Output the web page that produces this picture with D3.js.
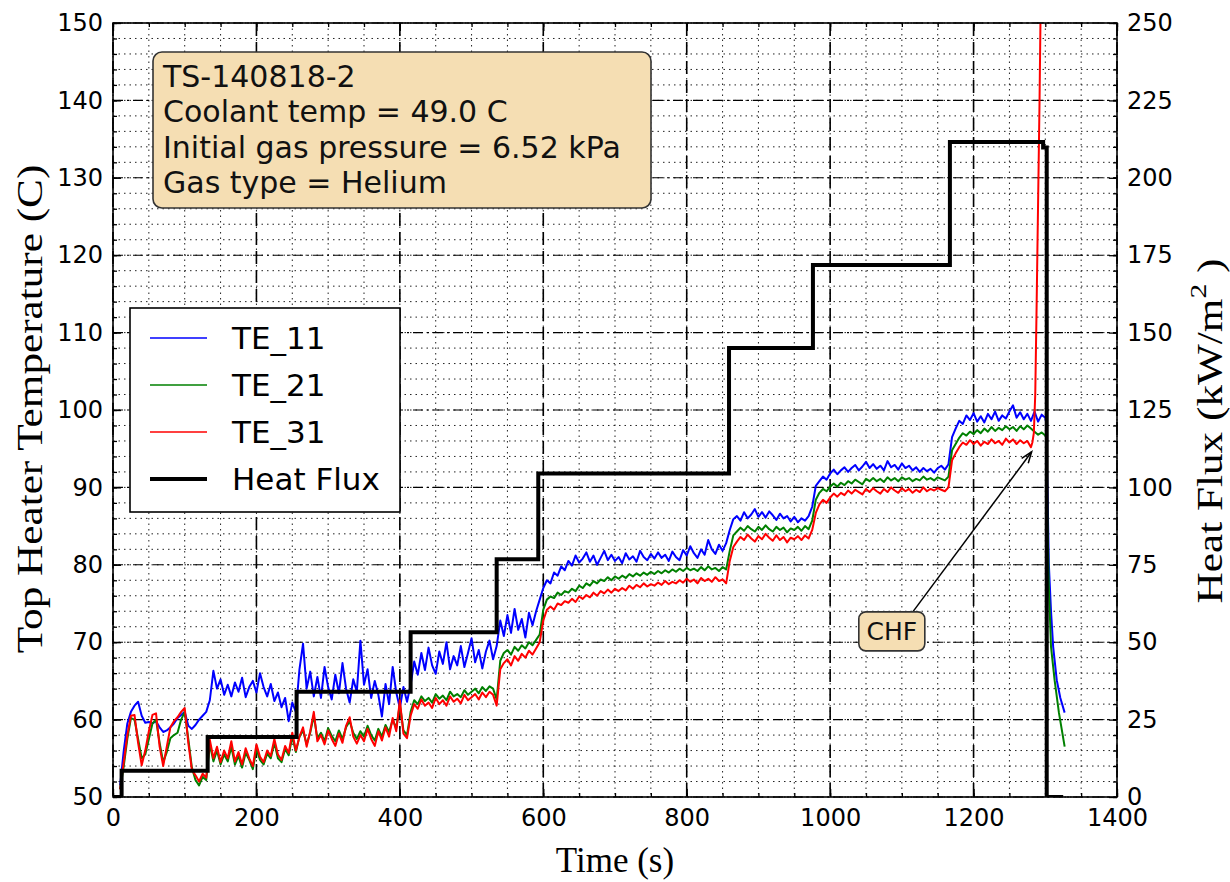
<!DOCTYPE html>
<html><head><meta charset="utf-8">
<script src="https://cdn.jsdelivr.net/npm/d3@7"></script>
<style>body{margin:0;background:#fff}</style>
</head><body>
<svg id="chart" width="1230" height="882"></svg>
<script>
// ---------- DATA ----------
const sampleStart = 10, sampleStep = 5;   // seconds
// TE_11 (blue), samples every 5 s from t=10 to t=1300
const te11 = [
 51.5,56.0,59.5,61.0,61.8,62.3,60.5,59.6,59.7,59.5,   // 10
 59.8,59.0,58.4,58.6,59.0,59.5,60.2,60.6,61.0,59.2,   // 60
 58.8,59.3,60.0,60.5,61.0,62.5,66.3,64.0,65.2,63.2,   // 110
 64.5,63.0,64.8,63.6,65.4,62.9,64.2,65.0,63.5,66.0,   // 160
 64.2,63.0,64.6,62.4,63.5,61.6,62.8,59.8,62.2,61.0,   // 210
 66.5,69.8,64.0,66.2,63.0,65.5,62.8,66.8,64.2,62.6,   // 260
 65.8,63.4,67.3,64.0,62.2,65.2,63.6,70.2,64.5,66.5,   // 310
 62.8,65.0,63.2,60.4,64.6,62.0,66.8,63.5,61.5,64.2,   // 360
 62.3,64.5,67.5,65.8,68.6,66.4,69.3,67.0,65.9,68.8,   // 410
 67.2,70.0,66.5,68.2,67.0,69.5,66.8,68.6,70.5,67.4,   // 460
 69.0,66.6,68.8,70.2,67.8,69.5,72.8,70.8,73.5,71.2,   // 510
 74.3,71.6,73.0,70.6,73.8,72.2,74.0,75.5,77.0,78.0,   // 560
 77.6,79.0,78.6,79.8,79.3,80.5,79.9,81.2,80.3,80.8,   // 610
 81.6,80.4,81.2,80.0,80.9,81.8,80.6,81.3,80.5,81.0,   // 660
 80.2,81.5,80.7,81.1,80.4,81.8,81.0,80.6,81.4,80.8,   // 710
 81.6,80.9,81.3,80.5,81.7,81.0,80.6,81.9,81.2,82.4,   // 760
 81.5,80.9,82.0,81.3,83.2,82.0,81.4,82.6,81.8,82.8,   // 810
 84.5,85.9,86.3,85.7,86.8,86.0,86.5,87.2,86.2,86.8,   // 860
 86.1,86.9,86.4,85.8,86.6,86.0,86.3,85.6,86.2,85.5,   // 910
 86.0,85.7,86.3,87.5,90.2,90.8,91.4,91.0,91.8,92.3,   // 960
 91.7,92.2,92.6,92.0,92.5,92.9,92.2,92.7,93.3,92.5,   // 1010
 93.0,92.4,92.8,92.2,93.4,92.6,92.9,92.3,93.1,92.5,   // 1060
 92.8,92.2,92.6,92.0,92.5,92.1,92.4,91.9,92.5,92.8,   // 1110
 92.3,93.0,96.5,97.6,98.6,98.2,99.3,98.7,99.6,98.5,   // 1160
 99.2,98.4,99.5,98.8,99.8,98.6,99.3,98.9,99.8,100.6,  // 1210
 99.0,99.7,98.8,99.5,98.6,99.8,98.5,99.4,99.0         // 1260
];
const te11TailTime = [1301,1303,1305,1308,1311,1316,1321,1327];
const te11Tail     = [98.5,90.0,80.0,74.0,69.4,65.1,62.8,60.9];

// TE_21 (green), samples every 5 s from t=10 to t=1300
const te21 = [
 51.0,54.0,57.5,60.2,60.0,57.5,55.0,55.5,57.5,59.5,   // 10
 60.0,57.0,54.5,55.8,57.6,58.0,58.3,60.0,61.0,57.5,   // 60
 53.8,52.2,51.5,52.6,52.2,56.8,54.6,56.0,54.2,55.5,   // 110
 54.6,56.5,54.2,55.3,53.8,55.7,54.8,53.6,56.2,54.8,   // 160
 54.2,55.6,55.0,57.0,55.0,54.5,56.2,55.4,57.8,55.8,   // 210
 57.8,58.6,56.8,58.3,60.5,57.6,58.3,57.2,58.9,57.9,   // 260
 57.2,58.6,57.5,59.0,59.8,58.3,57.5,58.5,57.8,59.2,   // 310
 58.0,57.3,58.8,57.8,59.3,58.4,60.0,58.9,62.0,58.6,   // 360
 58.0,61.0,62.5,62.0,63.0,62.4,62.8,62.2,63.3,62.7,   // 410
 63.1,62.5,63.6,63.0,63.3,62.9,63.8,63.2,63.6,64.0,   // 460
 63.4,64.2,63.7,64.3,64.0,62.6,67.6,68.6,69.0,68.4,   // 510
 69.4,68.9,69.6,69.2,70.0,69.6,70.3,71.0,74.2,75.5,   // 560
 75.9,75.7,76.4,76.1,76.6,76.4,76.9,76.6,77.3,77.0,   // 610
 77.6,77.3,77.9,77.6,78.1,77.9,78.4,78.0,78.5,78.2,   // 660
 78.6,78.3,78.8,78.5,78.9,78.6,79.0,78.7,79.1,78.8,   // 710
 79.2,78.9,79.3,79.0,79.4,79.1,79.5,79.2,79.6,79.3,   // 760
 79.5,79.2,79.7,79.3,79.8,79.4,79.6,79.2,79.7,79.4,   // 810
 81.8,83.8,84.3,84.8,84.4,85.0,84.6,84.3,84.9,84.5,   // 860
 85.1,84.6,84.3,84.9,84.5,84.8,84.2,84.7,84.5,84.9,   // 910
 84.4,85.0,84.6,85.7,88.4,89.3,89.8,89.5,90.1,90.5,   // 960
 90.1,90.6,90.3,90.8,90.5,91.0,90.7,90.4,91.1,90.8,   // 1010
 91.2,90.8,91.1,90.7,91.3,90.9,91.2,90.8,91.3,91.0,   // 1060
 91.2,90.8,91.1,90.9,91.4,91.0,91.2,90.9,91.3,91.1,   // 1110
 90.9,91.4,94.8,95.6,96.4,97.0,96.7,97.2,96.9,97.4,   // 1160
 97.0,97.6,97.2,97.8,97.3,97.7,97.4,97.9,97.5,97.8,   // 1210
 97.3,97.9,97.5,98.0,97.6,97.2,96.8,97.1,96.7         // 1260
];
const te21TailTime = [1301,1303,1305,1308,1313,1319,1327];
const te21Tail     = [96.5,86.0,77.0,69.4,65.1,60.9,56.5];

// TE_31 (red), samples every 5 s from t=10 to t=1280, then the CHF excursion
const te31 = [
 51.0,54.5,58.0,60.5,60.6,57.0,54.1,56.0,58.5,60.6,   // 10
 60.8,56.5,54.0,56.5,59.0,59.8,60.3,61.0,61.5,57.0,   // 60
 53.5,52.8,52.0,53.0,52.5,57.4,55.0,56.5,54.5,56.0,   // 110
 55.0,57.2,54.6,55.8,54.2,56.3,55.0,54.0,56.8,55.2,   // 160
 54.5,56.0,55.3,57.5,55.5,54.8,56.6,55.7,58.3,56.0,   // 210
 57.8,59.0,56.5,58.5,61.0,57.2,58.0,56.8,58.6,57.5,   // 260
 56.6,58.2,57.0,59.2,60.3,57.8,56.9,58.0,57.2,58.8,   // 310
 57.5,56.6,58.5,57.3,59.0,57.8,60.2,58.5,62.5,58.2,   // 360
 57.6,60.5,62.0,61.4,62.6,61.8,62.2,61.5,62.8,62.0,   // 410
 62.5,61.8,63.0,62.3,62.7,62.1,63.2,62.5,62.9,63.3,   // 460
 62.6,63.5,62.9,63.6,63.2,61.8,66.5,67.3,67.8,67.0,   // 510
 68.2,67.6,68.5,68.0,68.9,68.4,69.2,70.0,72.8,74.2,   // 560
 74.6,74.2,75.0,74.8,75.3,75.1,75.6,75.2,75.9,75.6,   // 610
 76.1,75.8,76.4,76.0,76.6,76.3,76.8,76.4,76.9,76.6,   // 660
 77.0,76.7,77.3,76.9,77.4,77.1,77.6,77.2,77.5,77.3,   // 710
 77.7,77.4,77.9,77.5,77.8,77.6,78.0,77.7,78.2,77.8,   // 760
 78.1,77.6,78.3,77.9,78.2,77.8,78.4,77.9,78.1,77.6,   // 810
 80.5,82.3,83.0,83.6,83.2,83.9,83.4,83.0,83.7,83.3,   // 860
 84.0,83.5,83.1,83.8,83.2,83.6,82.9,83.5,83.3,83.7,   // 910
 83.2,83.8,83.4,84.5,86.7,87.8,88.4,88.0,88.7,89.2,   // 960
 88.8,89.3,89.0,89.6,89.2,89.7,89.4,89.1,89.8,89.4,   // 1010
 89.9,89.5,89.2,89.8,89.4,90.0,89.6,89.3,89.9,89.5,   // 1060
 89.8,89.3,89.7,89.4,90.0,89.5,89.8,89.6,89.9,89.7,   // 1110
 89.5,90.0,93.5,94.4,95.2,95.8,95.5,96.1,95.6,96.0,   // 1160
 95.4,95.9,95.6,96.2,95.7,96.0,95.5,96.3,95.8,96.2,   // 1210
 95.6,96.1,95.7,96.0,95.2                             // 1260
];
const te31SpikeTime = [1282,1284,1286,1288,1290,1292,1294];
const te31Spike     = [95.8,97.0,102.0,114.0,127.0,140.0,156.0];

// Heat flux (kW/m^2), step changes
const fluxTime  = [0,  12,  132,  256,  415,  535,  593,   859,   976,   1167,  1297,  1302, 1325];
const fluxValue = [0,  8.5, 19.4, 34.0, 53.2, 76.8, 104.5, 145.0, 171.8, 211.6, 209.8, 0,    0];

const xTicks  = [0,200,400,600,800,1000,1200,1400];
const yTicks  = [50,60,70,80,90,100,110,120,130,140,150];
const y2Ticks = [0,25,50,75,100,125,150,175,200,225,250];

const infoLines = ["TS-140818-2","Coolant temp = 49.0 C","Initial gas pressure = 6.52 kPa","Gas type = Helium"];
const seriesNames  = ["TE_11","TE_21","TE_31","Heat Flux"];
const seriesColors = ["#0000ff","#008000","#ff0000","#000000"];
const chfLabel = "CHF";
const chfTip = [1281, 94.6];      // time, temperature
const chfText = [1086, 71.4];     // time, temperature

// ---------- CHART ----------
const W = 1230, H = 882;
const L = 113, R = 1117, T = 23, B = 797;
const svg = d3.select("#chart");
const x  = d3.scaleLinear([0,1400],[L,R]);
const y  = d3.scaleLinear([50,150],[B,T]);
const y2 = d3.scaleLinear([0,250],[B,T]);
const tickFont = "DejaVu Sans, sans-serif";
const serif = "Liberation Serif, Times New Roman, serif";

svg.append("rect").attr("width",W).attr("height",H).attr("fill","#fff");

// grid
const grid = svg.append("g");
const minorX = d3.range(0,1401,50), minorY = d3.range(50,150.01,2);
grid.selectAll(".mx").data(minorX).join("line")
  .attr("x1",d=>x(d)).attr("x2",d=>x(d)).attr("y1",T).attr("y2",B)
  .attr("stroke","#222").attr("stroke-width",1).attr("stroke-dasharray","1.5,4");
grid.selectAll(".my").data(minorY).join("line")
  .attr("y1",d=>y(d)).attr("y2",d=>y(d)).attr("x1",L).attr("x2",R)
  .attr("stroke","#222").attr("stroke-width",1).attr("stroke-dasharray","1.5,4");
grid.selectAll(".Mx").data(xTicks).join("line")
  .attr("x1",d=>x(d)).attr("x2",d=>x(d)).attr("y1",T).attr("y2",B)
  .attr("stroke","#000").attr("stroke-width",1.6).attr("stroke-dasharray","13,6");
grid.selectAll(".My").data(yTicks).join("line")
  .attr("y1",d=>y(d)).attr("y2",d=>y(d)).attr("x1",L).attr("x2",R)
  .attr("stroke","#000").attr("stroke-width",1.1).attr("stroke-dasharray","10,4,2,4");

// clip
svg.append("clipPath").attr("id","plotclip").append("rect")
  .attr("x",L).attr("y",T).attr("width",R-L).attr("height",B-T);
const plot = svg.append("g").attr("clip-path","url(#plotclip)");

function sampled(vals){ return vals.map((v,i)=>[sampleStart+i*sampleStep, v]); }
function zipT(ts,vs){ return ts.map((t,i)=>[t,vs[i]]); }
const s11 = sampled(te11).concat(zipT(te11TailTime,te11Tail));
const s21 = sampled(te21).concat(zipT(te21TailTime,te21Tail));
const s31 = sampled(te31).concat(zipT(te31SpikeTime,te31Spike));

const line = d3.line().x(d=>x(d[0])).y(d=>y(d[1]));
[[s11,0],[s21,1],[s31,2]].forEach(([s,i])=>{
  plot.append("path").datum(s).attr("d",line).attr("fill","none")
    .attr("stroke",seriesColors[i]).attr("stroke-width",2).attr("stroke-linejoin","round");
});
// heat flux on right axis
const fluxLine = d3.line().x(d=>x(d[0])).y(d=>y2(d[1])).curve(d3.curveStepAfter);
plot.append("path").datum(zipT(fluxTime,fluxValue)).attr("d",fluxLine).attr("fill","none")
  .attr("stroke","#000").attr("stroke-width",4).attr("stroke-linejoin","miter");

// axes
function styleAxis(g){
  g.select(".domain").remove();
  g.selectAll("text").attr("font-family",tickFont).attr("font-size",24).attr("fill","#000");
  g.selectAll("line").attr("stroke","#000").attr("stroke-width",1.3);
}
svg.append("g").attr("transform",`translate(0,${B})`)
  .call(d3.axisBottom(x).tickValues(xTicks).tickSize(-8).tickPadding(12).tickFormat(d3.format("d"))).call(styleAxis);
svg.append("g").attr("transform",`translate(0,${B})`)
  .call(d3.axisBottom(x).tickValues(minorX).tickSize(-4).tickFormat("")).call(styleAxis);
svg.append("g").attr("transform",`translate(0,${T})`)
  .call(d3.axisTop(x).tickValues(xTicks).tickSize(-8).tickFormat("")).call(styleAxis);
svg.append("g").attr("transform",`translate(0,${T})`)
  .call(d3.axisTop(x).tickValues(minorX).tickSize(-4).tickFormat("")).call(styleAxis);
svg.append("g").attr("transform",`translate(${L},0)`)
  .call(d3.axisLeft(y).tickValues(yTicks).tickSize(-8).tickPadding(10).tickFormat(d3.format("d"))).call(styleAxis);
svg.append("g").attr("transform",`translate(${L},0)`)
  .call(d3.axisLeft(y).tickValues(minorY).tickSize(-4).tickFormat("")).call(styleAxis);
svg.append("g").attr("transform",`translate(${R},0)`)
  .call(d3.axisRight(y2).tickValues(y2Ticks).tickSize(-8).tickPadding(10).tickFormat(d3.format("d"))).call(styleAxis);
svg.append("g").attr("transform",`translate(${R},0)`)
  .call(d3.axisRight(y2).tickValues(d3.range(0,250.01,5)).tickSize(-4).tickFormat("")).call(styleAxis);

// frame
svg.append("rect").attr("x",L).attr("y",T).attr("width",R-L).attr("height",B-T)
  .attr("fill","none").attr("stroke","#000").attr("stroke-width",1.6);

// axis labels
svg.append("text").attr("x",(L+R)/2).attr("y",872).attr("text-anchor","middle")
  .attr("font-family",serif).attr("font-size",35).text("Time (s)");
svg.append("text").attr("transform","translate(42,409) rotate(-90) scale(1.235,1)").attr("text-anchor","middle")
  .attr("font-family",serif).attr("font-size",35).text("Top Heater Temperature (C)");
const rl = svg.append("text").attr("transform","translate(1222,431) rotate(-90) scale(1.235,1)").attr("text-anchor","middle")
  .attr("font-family",serif).attr("font-size",35);
rl.append("tspan").text("Heat Flux (kW/m");
rl.append("tspan").attr("dy",-16).attr("font-size",24).text("2");
rl.append("tspan").attr("dy",16).text(" )");

// info box
const info = svg.append("g");
info.append("rect").attr("x",153).attr("y",52).attr("width",498).attr("height",156).attr("rx",9)
  .attr("fill","#f5deb3").attr("stroke","#333").attr("stroke-width",1.6);
info.selectAll("text").data(infoLines).join("text")
  .attr("x",163).attr("y",(d,i)=>87+i*35.3)
  .attr("font-family",tickFont).attr("font-size",30).attr("fill","#111").text(d=>d);

// legend
const lg = svg.append("g");
lg.append("rect").attr("x",130).attr("y",308).attr("width",270).attr("height",204)
  .attr("fill","#fff").attr("stroke","#000").attr("stroke-width",1.6);
seriesNames.forEach((n,i)=>{
  const yy = 338 + i*47;
  lg.append("line").attr("x1",150).attr("x2",207).attr("y1",yy).attr("y2",yy)
    .attr("stroke",seriesColors[i]).attr("stroke-width", i===3?4:1.6);
  lg.append("text").attr("x",232).attr("y",yy+11).attr("font-family",tickFont)
    .attr("font-size",31).attr("fill","#000").text(n);
});

// CHF annotation
const cx = x(chfText[0]), cy = y(chfText[1]);
const bw = 66, bh = 39;
const tipX = x(chfTip[0]), tipY = y(chfTip[1]);
const tailX = cx + 21, tailY = cy - bh/2;
const ang = Math.atan2(tipY-tailY, tipX-tailX);
svg.append("line").attr("x1",tailX).attr("y1",tailY).attr("x2",tipX).attr("y2",tipY)
  .attr("stroke","#000").attr("stroke-width",1.5);
const hl = 12, ha = 0.35;
svg.append("path").attr("d",`M${tipX-hl*Math.cos(ang-ha)},${tipY-hl*Math.sin(ang-ha)} L${tipX},${tipY} L${tipX-hl*Math.cos(ang+ha)},${tipY-hl*Math.sin(ang+ha)}`)
  .attr("fill","none").attr("stroke","#000").attr("stroke-width",1.5);
svg.append("rect").attr("x",cx-bw/2).attr("y",cy-bh/2).attr("width",bw).attr("height",bh).attr("rx",7)
  .attr("fill","#f5deb3").attr("stroke","#333").attr("stroke-width",1.6);
svg.append("text").attr("x",cx).attr("y",cy+9).attr("text-anchor","middle")
  .attr("font-family",tickFont).attr("font-size",25).attr("fill","#111").text(chfLabel);
</script>
</body></html>
